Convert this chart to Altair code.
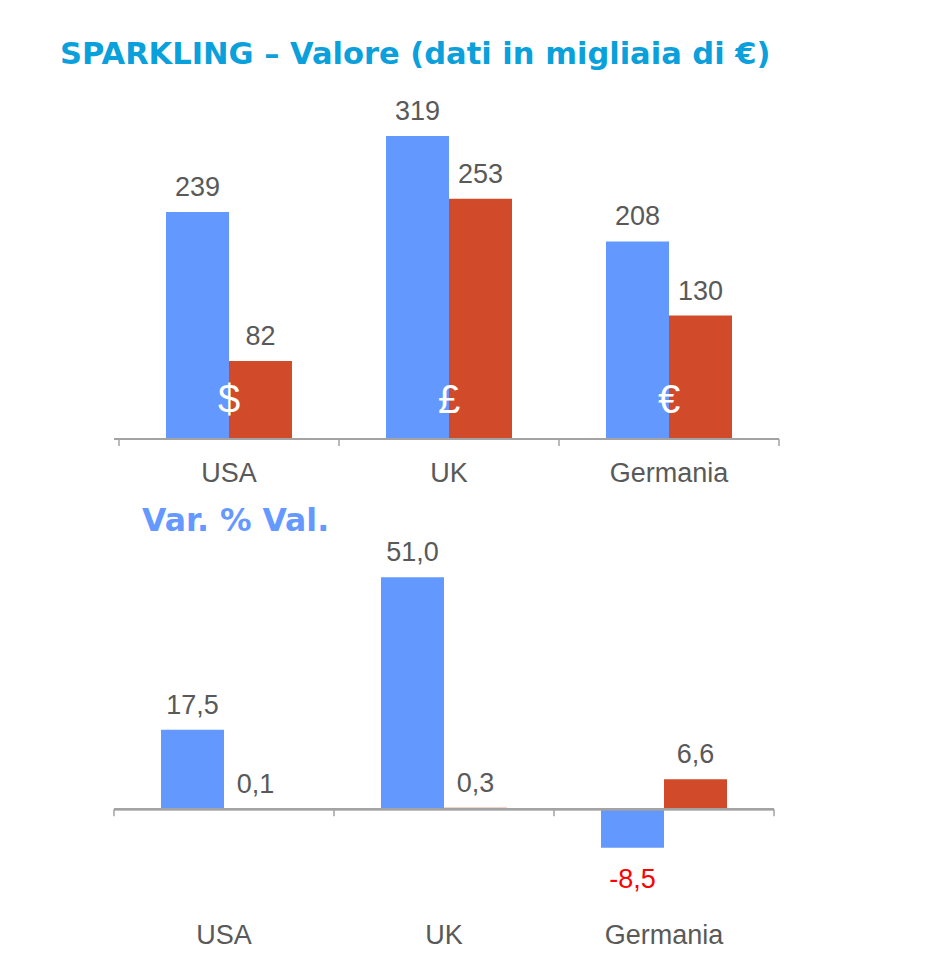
import altair as alt
import pandas as pd

countries = ["USA", "UK", "Germania"]
series = ["Serie 1", "Serie 2"]
valore_s1 = [239, 319, 208]
valore_s2 = [82, 253, 130]
var_s1 = [17.5, 51.0, -8.5]
var_s2 = [0.1, 0.3, 6.6]
currency = ["$", "£", "€"]
tick_positions = [0, 1, 2, 3]

BLUE = "#6398ff"
RED = "#d14b2a"
TXT = "#595959"
AXIS = "#a3a3a3"
FONT = "Liberation Sans"
TFONT = "DejaVu Sans"


def fmt_it(v, dec):
    return f"{v:.{dec}f}".replace(".", ",")


def make_df(s1, s2, dec):
    df = pd.DataFrame({
        "country": countries * 2,
        "series": [series[0]] * 3 + [series[1]] * 3,
        "value": list(s1) + list(s2),
    })
    df["label"] = [fmt_it(v, dec) for v in df["value"]]
    return df


val_df = make_df(valore_s1, valore_s2, 0)
var_df = make_df(var_s1, var_s2, 1)
cur_df = pd.DataFrame({"country": countries, "symbol": currency})
tick_df = pd.DataFrame({"pos": tick_positions})


def panel(df, ydomain, width, height, xrange, title, label_pad, cur=None):
    xscale = alt.Scale(domain=countries, paddingInner=0.4273,
                       paddingOuter=0.2136, range=xrange)
    yscale = alt.Scale(domain=ydomain, nice=False, zero=False)
    xoff = alt.XOffset("series:N", sort=series,
                       scale=alt.Scale(paddingInner=0, paddingOuter=0))
    xaxis = alt.Axis(title=None, domain=False, ticks=False, labelAngle=0,
                     labelFont=FONT, labelFontSize=27, labelColor=TXT,
                     labelPadding=label_pad)
    base = alt.Chart(df)
    bars = base.mark_bar().encode(
        x=alt.X("country:N", sort=countries, scale=xscale, axis=xaxis),
        xOffset=xoff,
        y=alt.Y("value:Q", scale=yscale, axis=None),
        color=alt.Color("series:N", scale=alt.Scale(domain=series, range=[BLUE, RED]),
                        legend=None),
    )
    lab_pos = base.transform_filter("datum.value >= 0").mark_text(
        font=FONT, fontSize=27, color=TXT, baseline="alphabetic", dy=-16
    ).encode(
        x=alt.X("country:N", sort=countries, scale=xscale, axis=None),
        xOffset=xoff,
        y=alt.Y("value:Q", scale=yscale, axis=None),
        text="label:N",
    )
    lab_neg = base.transform_filter("datum.value < 0").mark_text(
        font=FONT, fontSize=27, color="#ff0000", baseline="alphabetic", dy=40
    ).encode(
        x=alt.X("country:N", sort=countries, scale=xscale, axis=None),
        xOffset=xoff,
        y=alt.Y("value:Q", scale=yscale, axis=None),
        text="label:N",
    )
    zero = alt.Chart(tick_df).mark_rule(color=AXIS, strokeWidth=2).encode(
        y=alt.datum(0, scale=yscale)
    )
    ticks = alt.Chart(tick_df).mark_rule(color=AXIS, strokeWidth=1.5, y2Offset=7).encode(
        x=alt.X("pos:Q", scale=alt.Scale(domain=[0, 3], range=xrange), axis=None),
        y=alt.datum(0),
        y2=alt.datum(0),
    )
    layers = [bars, lab_pos, lab_neg, zero, ticks]
    if cur is not None:
        sym = alt.Chart(cur).mark_text(
            font=FONT, fontSize=40, color="white", baseline="middle", dy=-38
        ).encode(
            x=alt.X("country:N", sort=countries, scale=xscale, axis=None),
            y=alt.datum(0),
            text="symbol:N",
        )
        layers.append(sym)
    return alt.layer(*layers).resolve_scale(x="independent").properties(
        width=width, height=height, title=title
    )


top_title = alt.TitleParams(
    "SPARKLING – Valore (dati in migliaia di €)", anchor="start", dx=-53,
    font=TFONT, fontSize=30.5, fontWeight="bold", color="#0aa0db",
    baseline="alphabetic", offset=3,
)
bot_title = alt.TitleParams(
    "Var. % Val.", anchor="start", dx=29,
    font=TFONT, fontSize=31.5, fontWeight="bold", color="#6699ff",
    baseline="alphabetic", offset=-23,
)

top = panel(val_df, [0, 340], 665, 323, [5, 665], top_title, 21, cur=cur_df)
bottom = panel(var_df, [-23.5, 59], 660, 375, [0, 660], bot_title, 6)

chart = alt.vconcat(top, bottom, spacing=102, bounds="flush").properties(
    padding={"left": 52, "top": 32, "right": 5, "bottom": 0}
).configure_view(strokeWidth=0)

chart.save("out.html", embed_options={"renderer": "svg", "actions": False})
